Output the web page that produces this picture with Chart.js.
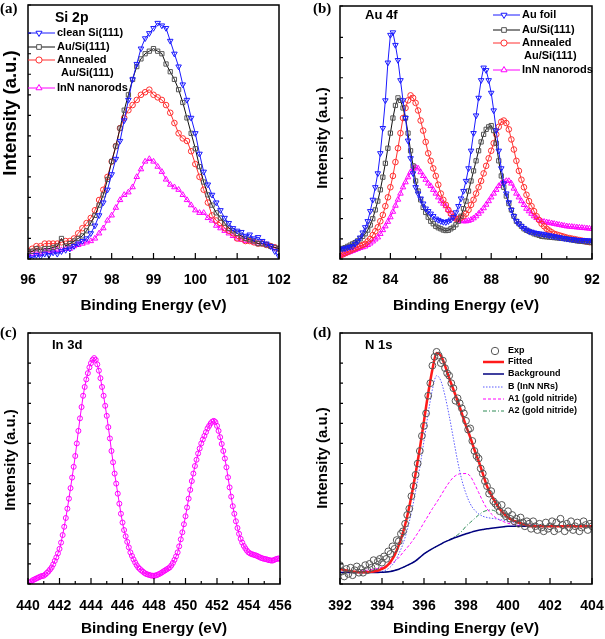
<!DOCTYPE html>
<html>
<head>
<meta charset="utf-8">
<script src="https://cdn.jsdelivr.net/npm/chart.js@4.4.1/dist/chart.umd.min.js"></script>
<style>
  html, body { margin: 0; padding: 0; background: #fff; }
  #wrap { position: relative; width: 605px; height: 639px; }
  canvas { position: absolute; }
</style>
</head>
<body>
<div id="wrap">
  <canvas id="ca" width="300" height="320" style="left:0;top:0;width:300px;height:320px"></canvas>
  <canvas id="cb" width="305" height="320" style="left:300px;top:0;width:305px;height:320px"></canvas>
  <canvas id="cc" width="300" height="319" style="left:0;top:320px;width:300px;height:319px"></canvas>
  <canvas id="cd" width="305" height="319" style="left:300px;top:320px;width:305px;height:319px"></canvas>
</div>
<script>
// ---- (a) Si 2p ----
const eA = [96,96.1,96.2,96.3,96.4,96.5,96.6,96.7,96.8,96.9,
  97,97.1,97.2,97.3,97.4,97.5,97.6,97.7,97.8,97.9,
  98,98.1,98.2,98.3,98.4,98.5,98.6,98.7,98.8,98.9,
  99,99.1,99.2,99.3,99.4,99.5,99.6,99.7,99.8,99.9,
  100,100.1,100.2,100.3,100.4,100.5,100.6,100.7,100.8,100.9,
  101,101.1,101.2,101.3,101.4,101.5,101.6,101.7,101.8,101.9,102];
const cleanSiA = [1,0.5,1.5,1,2,1.5,2.5,2,3,3.5, 4,5,6,7,8,10,13,17,22,27,
  33,39,46,54,62,70,76,82,86,88, 90,92,91,90,85,80,75,68,62,55,
  49,41,34,29,25,22,19,16,14,12, 11,10.5,9,9.5,8,8.5,7,6,5,3, 1];
const auSiA = [3,3,4,3.5,4,4,4.5,5,8,5, 6,7,8,9,11,14,17,21,25,31,
  38,44,51,58,64,70,75,78,80,81, 82,81,80,76,73,70,66,61,55,49,
  43,36,30,25,21,18,16,14,12,11, 10,9,8,7.5,7,6,6,5.5,5,4.5, 4];
const annealedA = [3,4,5,5,6,6,6,6,6.5,7, 7,8,10,12,14,16,19,23,27,32,
  38,44,51,55,58,60,62,64,65,66, 64,63,62,60,57,53,49,47,46,42,
  37,32,27,22,17,15,14,12,11,10, 8,8,7,7,6.5,6,6,5.5,5,4.5, 4];
const innA = [2,2,2.5,2,3,3,3,3.5,3.5,4, 4,5,5.5,6,6.5,7,8,10,12,15,
  17,20,23,25,26,28,32,35,38,39, 38,36,34,31,29,28,27,25,23,21,
  19,18,18,16,15,13,12,11,10,9, 8,7.5,7,7,6.5,6,6,5.5,5,4.5, 4];

// ---- (b) Au 4f ----
const eB = [82,82.1,82.2,82.3,82.4,82.5,82.6,82.7,82.8,82.9,
  83,83.1,83.2,83.3,83.4,83.5,83.6,83.7,83.8,83.9,
  84,84.1,84.2,84.3,84.4,84.5,84.6,84.7,84.8,84.9,
  85,85.1,85.2,85.3,85.4,85.5,85.6,85.7,85.8,85.9,
  86,86.1,86.2,86.3,86.4,86.5,86.6,86.7,86.8,86.9,
  87,87.1,87.2,87.3,87.4,87.5,87.6,87.7,87.8,87.9,
  88,88.1,88.2,88.3,88.4,88.5,88.6,88.7,88.8,88.9,
  89,89.1,89.2,89.3,89.4,89.5,89.6,89.7,89.8,89.9,
  90,90.1,90.2,90.3,90.4,90.5,90.6,90.7,90.8,90.9,
  91,91.1,91.2,91.3,91.4,91.5,91.6,91.7,91.8,91.9,92];
const auFoilB = [4,4,4.2,4.5,4.8,5,6,7,8.5,10.5,
  12.6,15,19,23.5,28.5,34,42,52,63,78,
  89,90,85,79,71,63,56,47,40,34,
  28.5,26,24,22,20,19,18,17,16,15.5,
  15,14.7,14.6,15,15.6,16.6,18.5,21,24,27,
  31,36,43,50,57,64,71,76,75,71,
  66,59,51,43,36,30,26,22.5,19.5,17,
  15,14,13,12.3,11.6,11,10.8,10.5,10.3,10.1,
  10,9.8,9.6,9.4,9.2,9,8.8,8.6,8.4,8.2,
  8,7.9,7.8,7.7,7.6,7.5,7.5,7.4,7.4,7.3, 7.3];
const auSiB = [4,4.2,4.5,5,5.5,6,6.5,7.2,8,9,
  10,11.5,13.5,16,19.5,23,27.5,32.5,38,44,
  50,56,61,64,63,60,56,50,43,37,
  31,27,23.5,20.5,18.5,16.6,15,14,13,12.4,
  12,11.5,11.3,11.4,12,12.6,13.6,15,17,20,
  23,27,31,35,39,43,46.5,49.5,51.5,52.5,
  53,51,46,39,33,28.5,25,22,19.5,17,
  15,14,13,12,11.4,11,10.5,10,9.7,9.4,
  9,8.9,8.8,8.7,8.6,8.5,8.4,8.3,8.2,8.1,
  8,7.8,7.6,7.4,7.2,7.1,7,6.9,6.8,6.7, 6.6];
const annealedB = [1.3,1.8,2.3,2.8,3.3,3.8,4.2,4.7,5.2,5.6,
  6,7,8,9.5,11,12.6,15,17.5,21,24.5,
  28.5,33,38.5,44,50,56,60,63,65,64,
  62,59,55,51,46.5,42,39,36,33,29.5,
  26,23.5,21.5,19.5,18,16.6,16,16,16.4,17,
  18,19.5,21.5,23.5,26,28.5,31,34,37,40,
  43,46,49.5,52.5,54.5,55,54,51.5,47.5,43.5,
  39,35,31.5,28.5,25.5,23,21,19,17,15.5,
  14,13,12,11.3,10.6,10,9.7,9.4,9.1,8.8,
  8.5,8.3,8.1,7.9,7.7,7.5,7.3,7.1,6.9,6.7, 6.6];
const innB = [1.3,1.6,2,2.4,2.8,3.2,3.6,4,4.4,4.7,
  5,5.6,6.2,7,7.8,8.6,10,11.5,13,14.8,
  16.6,18.8,21.2,23.6,26,28.5,30.5,32.5,34.5,36,
  36.5,36,34.5,33,31.5,30,29,27.5,26,24.5,
  23,22,21,19.5,18,16.6,16,15.5,15.2,15,
  15,15.2,15.6,16.2,17,18,19,20.2,21.6,23,
  24.5,26,27.5,29,30,30.5,31,31,30,28,
  26,24.5,23,21.5,20,19,18,17,16.3,15.6,
  15,14.8,14.6,14.4,14.2,14,13.8,13.6,13.4,13.2,
  13,12.9,12.8,12.7,12.6,12.5,12.4,12.3,12.2,12.1, 12];

// ---- (c) In 3d ----
const eC = [440,440.1,440.2,440.3,440.4,440.5,440.6,440.7,440.8,440.9,
  441,441.1,441.2,441.3,441.4,441.5,441.6,441.7,441.8,441.9,
  442,442.1,442.2,442.3,442.4,442.5,442.6,442.7,442.8,442.9,
  443,443.1,443.2,443.3,443.4,443.5,443.6,443.7,443.8,443.9,
  444,444.1,444.2,444.3,444.4,444.5,444.6,444.7,444.8,444.9,
  445,445.1,445.2,445.3,445.4,445.5,445.6,445.7,445.8,445.9,
  446,446.1,446.2,446.3,446.4,446.5,446.6,446.7,446.8,446.9,
  447,447.1,447.2,447.3,447.4,447.5,447.6,447.7,447.8,447.9,
  448,448.1,448.2,448.3,448.4,448.5,448.6,448.7,448.8,448.9,
  449,449.1,449.2,449.3,449.4,449.5,449.6,449.7,449.8,449.9,
  450,450.1,450.2,450.3,450.4,450.5,450.6,450.7,450.8,450.9,
  451,451.1,451.2,451.3,451.4,451.5,451.6,451.7,451.8,451.9,
  452,452.1,452.2,452.3,452.4,452.5,452.6,452.7,452.8,452.9,
  453,453.1,453.2,453.3,453.4,453.5,453.6,453.7,453.8,453.9,
  454,454.1,454.2,454.3,454.4,454.5,454.6,454.7,454.8,454.9,
  455,455.1,455.2,455.3,455.4,455.5,455.6,455.7,455.8,455.9,456];
const in3dC = [0,0.5,1,1.5,1.8,2.1,2.4,2.7,3,3.2,
  3.3,3.8,4.4,5,5.8,6.6,7.8,9.2,10.6,12.2,
  14,16.5,19.5,22.8,26.3,30,34,38.2,42.4,46.7,
  51,56,61,66,70.5,75,78.5,81.5,84,86.3,
  88,89.3,90,89.3,87.5,85,82,78.5,75,71,
  67,62.5,58,53,48.5,44,40,36,32,28,
  24.5,21.5,19,16.8,14.6,12.6,11.2,9.8,8.6,7.5,
  6.6,6,5.4,4.9,4.4,4,3.8,3.6,3.4,3.3,
  3.3,3.4,3.6,3.9,4.2,4.6,5,5.4,5.8,6.2,
  6.6,7.4,8.4,9.6,11,12.6,15,17.8,20.6,23.8,
  27,30.5,34,37.5,41,44,47,49.5,52,54,
  56,57.6,59,60.5,62,63,64,64.7,65,64.5,
  63,61,58.5,55.8,53,50,46.5,42.5,38.5,34.8,
  31,28,25,22.3,20,18,16.5,15.2,14.2,13.3,
  12.6,12.2,11.9,11.7,11.5,11.3,11,10.7,10.4,10.2,
  10,9.9,9.7,9.5,9.4,9.3,9.5,9.8,10,10.2, 10];

// ---- (d) N 1s ----
const eD = [392,392.1,392.2,392.3,392.4,392.5,392.6,392.7,392.8,392.9,
  393,393.1,393.2,393.3,393.4,393.5,393.6,393.7,393.8,393.9,
  394,394.1,394.2,394.3,394.4,394.5,394.6,394.7,394.8,394.9,
  395,395.1,395.2,395.3,395.4,395.5,395.6,395.7,395.8,395.9,
  396,396.1,396.2,396.3,396.4,396.5,396.6,396.7,396.8,396.9,
  397,397.1,397.2,397.3,397.4,397.5,397.6,397.7,397.8,397.9,
  398,398.1,398.2,398.3,398.4,398.5,398.6,398.7,398.8,398.9,
  399,399.1,399.2,399.3,399.4,399.5,399.6,399.7,399.8,399.9,
  400,400.1,400.2,400.3,400.4,400.5,400.6,400.7,400.8,400.9,
  401,401.1,401.2,401.3,401.4,401.5,401.6,401.7,401.8,401.9,
  402,402.1,402.2,402.3,402.4,402.5,402.6,402.7,402.8,402.9,
  403,403.1,403.2,403.3,403.4,403.5,403.6,403.7,403.8,403.9,404];
const expD = [7.5,5,3,6,4,6.5,3.5,5.5,7,4.5,
  6,4.5,7.5,5.5,8,6.5,9.5,7,9,10,
  8.5,11,10,13,12,15,14,17.5,17,20,
  21,24,27.5,30,35,39,43.5,48,53,59,
  63,68,75,80,87,90.5,92.5,91,88,89,
  86,84,83,80,78,73,74,72,70,68,
  65,61.5,62,57,53,51,50,46,44,41,
  39,36,37,33,32,31,29,31.5,28,27,
  29,26,27.5,25,26,24,26.5,24.5,23,25,
  24,22,25,23,21.5,24,22.5,21,24.5,22,
  23,25,21,24.5,22,26,23.5,21,24,22.5,
  25,21.5,23,24.5,21,22.5,25,23.5,21.5,24, 23];
const eFit = [392,392.2,392.4,392.6,392.8,393,393.2,393.4,393.6,393.8,
  394,394.2,394.4,394.6,394.8,395,395.2,395.4,395.6,395.8,
  396,396.2,396.4,396.6,396.8,397,397.2,397.4,397.6,397.8,
  398,398.2,398.4,398.6,398.8,399,399.2,399.4,399.6,399.8,
  400,400.2,400.4,400.6,400.8,401,401.2,401.4,401.6,401.8,
  402,402.2,402.4,402.6,402.8,403,403.2,403.4,403.6,403.8,404];
const fittedD = [6,5.6,5.3,5,4.8,4.7,4.7,4.8,5,5.3,
  6,7,8.8,11.5,15.5,20.5,27,35,44,54,
  65,76,85.5,92,91,87,82,77.5,73,68,
  63,58.5,53.5,49,44,39,35.5,32.5,30,28,
  26.5,25.5,24.8,24.2,23.6,23.2,23,23,23,23,
  23,23,23,23,23,23,23,23,23,23, 23];
const backgroundD = [4.6,4.6,4.6,4.6,4.6,4.6,4.6,4.6,4.6,4.6,
  4.7,4.8,5,5.4,5.9,6.6,7.4,8.2,9.2,10.6,
  12,13.1,14.1,15,15.9,16.8,17.5,18.2,18.8,19.4,
  20,20.5,21,21.4,21.7,22,22.2,22.4,22.6,22.8,
  23,23,23,23,23,23,23,23,23,23,
  23,23,23,23,23,23,23,23,23,23, 23];
const bInnD = [4.6,4.6,4.6,4.6,4.6,4.6,4.6,4.6,4.6,4.6,
  5,5.6,6.8,8.8,12,16,21.5,28.5,37,46.5,
  57,68,77.5,83,81,75,67,58,49,41.5,
  36,32,29.5,28,27,26.5,26.2,26,25.7,25.4,
  25,24.7,24.4,24.2,24,23.8,23.6,23.4,23.2,23.1,
  23,23,23,23,23,23,23,23,23,23, 23];
const a1GoldD = [4.6,4.7,4.8,4.9,5,5.2,5.4,5.6,5.9,6.2,
  6.6,7.2,8,9,10.5,12.6,14.5,16.6,19,21.6,
  24.5,27.2,30,32.5,35.2,38,40.5,42.5,43.6,44,
  44,43,40,36.5,33,30,28,26.5,25.5,24.8,
  24.2,23.8,23.5,23.3,23.1,23,23,23,23,23,
  23,23,23,23,23,23,23,23,23,23, 23];
const a2GoldD = [4.6,4.6,4.6,4.6,4.6,4.6,4.6,4.6,4.6,4.6,
  4.7,4.8,5,5.4,5.9,6.6,7.4,8.2,9.2,10.6,
  12,13.1,14.1,15,15.9,16.8,17.5,18.6,19.6,21,
  23,24.5,26,27.5,28.7,29.3,29.5,29,28,27,
  26,25.2,24.5,24,23.6,23.3,23.1,23,23,23,
  23,23,23,23,23,23,23,23,23,23, 23];

const SANS = "'Liberation Sans', Arial, sans-serif";
Chart.defaults.font.family = SANS;
Chart.defaults.color = '#000';

const pts = (xs, ys) => xs.map((x, i) => ({x: x, y: ys[i]}));

function measured(label, xs, ys, color, style, extra) {
  return Object.assign({
    label: label, data: pts(xs, ys),
    borderColor: color, borderWidth: 1, tension: 0,
    pointStyle: style, pointRadius: 3, pointBorderColor: color,
    pointBorderWidth: 1, pointBackgroundColor: 'rgba(255,255,255,0)'
  }, extra || {});
}
function fitLine(label, xs, ys, color, width, dash) {
  return {
    label: label, data: pts(xs, ys), borderColor: color, borderWidth: width,
    borderDash: dash || [], pointRadius: 0, cubicInterpolationMode: 'monotone'
  };
}

// frame, inward ticks, panel labels, headings and legends
const decor = {
  id: 'decor',
  afterDraw(chart, args, o) {
    const ctx = chart.ctx, a = chart.chartArea;
    const xs = chart.scales.x, ys = chart.scales.y;
    ctx.save();
    ctx.strokeStyle = '#000';
    ctx.lineWidth = 1.2;
    ctx.beginPath();
    const maj = xs.ticks.map(t => t.value);
    maj.forEach((v, i) => {
      const px = xs.getPixelForValue(v);
      ctx.moveTo(px, a.bottom); ctx.lineTo(px, a.bottom - 6);
      if (i < maj.length - 1) {
        const mx = xs.getPixelForValue((v + maj[i + 1]) / 2);
        ctx.moveTo(mx, a.bottom); ctx.lineTo(mx, a.bottom - 3);
      }
    });
    ys.ticks.forEach(t => {
      const py = ys.getPixelForValue(t.value);
      ctx.moveTo(a.left, py); ctx.lineTo(a.left + 3, py);
    });
    ctx.stroke();
    ctx.lineWidth = 1.5;
    ctx.strokeRect(a.left, a.top, a.right - a.left, a.bottom - a.top);

    ctx.fillStyle = '#000';
    ctx.textBaseline = 'middle';
    ctx.textAlign = 'left';
    ctx.font = "bold 15px 'Liberation Serif', 'Times New Roman', serif";
    ctx.fillText(o.tag, o.tagX, o.tagY);
    ctx.font = 'bold ' + o.headSize + 'px ' + SANS;
    ctx.fillText(o.head, o.headX, o.headY);

    ctx.save();
    ctx.translate(o.yTitleX, o.yTitleY);
    ctx.rotate(-Math.PI / 2);
    ctx.textAlign = 'center';
    ctx.font = 'bold ' + o.yTitleSize + 'px ' + SANS;
    ctx.fillText('Intensity (a.u.)', 0, 0);
    ctx.restore();

    const L = o.legend;
    if (L) {
      ctx.font = 'bold ' + L.size + 'px ' + SANS;
      L.rows.forEach(r => {
        const ds = chart.data.datasets[r.ds];
        if (ds.showLine !== false) {
          ctx.save();
          ctx.strokeStyle = ds.borderColor;
          ctx.lineWidth = ds.borderWidth;
          ctx.setLineDash(ds.borderDash || []);
          ctx.beginPath(); ctx.moveTo(L.x0, r.y); ctx.lineTo(L.x1, r.y); ctx.stroke();
          ctx.restore();
        }
        if (ds.pointRadius > 0) {
          ctx.save();
          ctx.strokeStyle = ds.pointBorderColor;
          ctx.fillStyle = '#fff';
          ctx.lineWidth = 1;
          Chart.helpers.drawPoint(ctx, {pointStyle: ds.pointStyle, rotation: ds.pointRotation || 0,
            radius: ds.pointRadius + 0.3, borderWidth: 1}, L.mx, r.y);
          ctx.restore();
        }
        ctx.fillStyle = '#000';
        ctx.fillText(r.text, L.tx, r.y);
      });
      (L.extra || []).forEach(e => ctx.fillText(e.text, e.x, e.y));
    }
    ctx.restore();
  }
};

function panel(id, c) {
  return new Chart(document.getElementById(id), {
    type: 'line',
    data: {datasets: c.datasets},
    options: {
      responsive: false,
      animation: false,
      layout: {padding: c.pad},
      plugins: {legend: {display: false}, tooltip: {enabled: false}, decor: c.decor},
      scales: {
        x: {
          type: 'linear', min: c.xMin, max: c.xMax,
          afterFit: s => { s.height = c.xH; },
          // tick marks are drawn by the decor plugin; tickLength only offsets the labels
          grid: {display: false, drawTicks: true, tickLength: c.tickPad},
          border: {display: false},
          ticks: {stepSize: c.xStep, autoSkip: false, maxRotation: 0, padding: 0,
            color: '#000', font: {size: 14, weight: 'bold'}},
          title: {display: true, text: 'Binding Energy (eV)', color: '#000',
            font: {size: 15.3, weight: 'bold'}, padding: {top: 0, bottom: c.titlePad}}
        },
        y: {
          type: 'linear', min: c.yMin, max: c.yMax,
          afterFit: s => { s.width = c.yW; },
          grid: {display: false, drawTicks: false},
          border: {display: false},
          ticks: {display: false, stepSize: 8, padding: 0}
        }
      }
    },
    plugins: [decor]
  });
}

const BLUE = '#1a1aff', GREY = '#555', BLACK = '#111', RED = '#ff3030', MAG = '#ff00ff';

panel('ca', {
  datasets: [
    measured('clean Si(111)', eA, cleanSiA, BLUE, 'triangle', {pointRotation: 180, pointRadius: 3.2}),
    measured('Au/Si(111)', eA, auSiA, BLACK, 'rect', {pointBorderColor: GREY, pointRadius: 3}),
    measured('Annealed Au/Si(111)', eA, annealedA, RED, 'circle', {pointRadius: 2.8}),
    measured('InN nanorods', eA, innA, MAG, 'triangle', {pointRadius: 3.2})
  ],
  pad: {left: 0, top: 5, right: 21, bottom: 0},
  xMin: 96, xMax: 102, xStep: 1, xH: 61, yW: 28, yMin: 0, yMax: 99,
  tickPad: 13, titlePad: 5,
  decor: {
    tag: '(a)', tagX: 0, tagY: 9,
    head: 'Si 2p', headX: 55, headY: 18, headSize: 14,
    yTitleX: 11, yTitleY: 113, yTitleSize: 18.5,
    legend: {size: 11, x0: 28, x1: 55, mx: 39, tx: 57,
      rows: [
        {ds: 0, y: 33, text: 'clean Si(111)'},
        {ds: 1, y: 47, text: 'Au/Si(111)'},
        {ds: 2, y: 60, text: 'Annealed'},
        {ds: 3, y: 88, text: 'InN nanorods'}
      ],
      extra: [{text: 'Au/Si(111)', x: 61, y: 73}]}
  }
});

panel('cb', {
  datasets: [
    measured('Au foil', eB, auFoilB, BLUE, 'triangle', {pointRotation: 180, pointRadius: 3.2}),
    measured('Au/Si(111)', eB, auSiB, BLACK, 'rect', {pointBorderColor: GREY, pointRadius: 3}),
    measured('Annealed Au/Si(111)', eB, annealedB, RED, 'circle', {pointRadius: 2.8}),
    measured('InN nanorods', eB, innB, MAG, 'triangle', {pointRadius: 3.2})
  ],
  pad: {left: 0, top: 6, right: 13, bottom: 0},
  xMin: 82, xMax: 92, xStep: 2, xH: 61, yW: 40, yMin: 0, yMax: 100.5,
  tickPad: 13, titlePad: 5,
  decor: {
    tag: '(b)', tagX: 13, tagY: 9,
    head: 'Au 4f', headX: 65, headY: 15, headSize: 13,
    yTitleX: 23, yTitleY: 138, yTitleSize: 15,
    legend: {size: 11, x0: 193, x1: 220, mx: 204, tx: 222,
      rows: [
        {ds: 0, y: 15, text: 'Au foil'},
        {ds: 1, y: 30, text: 'Au/Si(111)'},
        {ds: 2, y: 43, text: 'Annealed'},
        {ds: 3, y: 70, text: 'InN nanorods'}
      ],
      extra: [{text: 'Au/Si(111)', x: 224, y: 56}]}
  }
});

panel('cc', {
  datasets: [
    measured('In 3d', eC, in3dC, MAG, 'circle', {pointRadius: 2.5})
  ],
  pad: {left: 0, top: 13, right: 20, bottom: 0},
  xMin: 440, xMax: 456, xStep: 2, xH: 55, yW: 28, yMin: 0, yMax: 100,
  tickPad: 14, titlePad: 1,
  decor: {
    tag: '(c)', tagX: 0, tagY: 13,
    head: 'In 3d', headX: 52, headY: 25, headSize: 13,
    yTitleX: 11, yTitleY: 140, yTitleSize: 15
  }
});

panel('cd', {
  datasets: [
    {label: 'Exp', data: pts(eD, expD), showLine: false, pointStyle: 'circle', pointRadius: 3.4,
      pointBorderColor: GREY, pointBorderWidth: 1, pointBackgroundColor: 'rgba(255,255,255,0)',
      borderColor: GREY},
    fitLine('Fitted', eFit, fittedD, '#ff1a1a', 2.5),
    fitLine('Background', eFit, backgroundD, '#00007f', 1.5),
    fitLine('B (InN NRs)', eFit, bInnD, '#5a5aff', 1, [1.5, 1.5]),
    fitLine('A1 (gold nitride)', eFit, a1GoldD, MAG, 1, [3, 2]),
    fitLine('A2 (gold nitride)', eFit, a2GoldD, '#2e8b57', 1, [4, 2, 1, 2])
  ],
  pad: {left: 0, top: 13, right: 13, bottom: 0},
  xMin: 392, xMax: 404, xStep: 2, xH: 55, yW: 40, yMin: 0, yMax: 100,
  tickPad: 14, titlePad: 1,
  decor: {
    tag: '(d)', tagX: 13, tagY: 13,
    head: 'N 1s', headX: 65, headY: 25, headSize: 13,
    yTitleX: 23, yTitleY: 138, yTitleSize: 15,
    legend: {size: 9, x0: 183, x1: 204, mx: 195, tx: 208,
      rows: [
        {ds: 0, y: 31, text: 'Exp'},
        {ds: 1, y: 42, text: 'Fitted'},
        {ds: 2, y: 54, text: 'Background'},
        {ds: 3, y: 67, text: 'B (InN NRs)'},
        {ds: 4, y: 79, text: 'A1 (gold nitride)'},
        {ds: 5, y: 91, text: 'A2 (gold nitride)'}
      ]}
  }
});
</script>
</body>
</html>
